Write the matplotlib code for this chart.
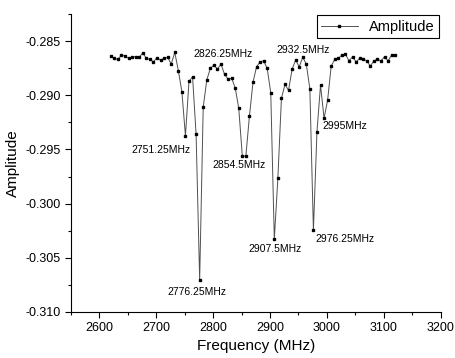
import numpy as np
import matplotlib.pyplot as plt
from matplotlib.ticker import MultipleLocator, FormatStrFormatter

plt.rcParams['font.family'] = ['Liberation Sans', 'DejaVu Sans']
plt.rcParams['axes.unicode_minus'] = False

# %% Data: frequency sweep (MHz) and measured amplitude
freq = np.arange(2620, 3120.01, 6.25)
amp = [-0.28638, -0.28660, -0.28669, -0.28629, -0.28638, -0.28660, -0.28645,
       -0.28645, -0.28650, -0.28608, -0.28660, -0.28669, -0.28691, -0.28654,
       -0.28675, -0.28660, -0.28650, -0.28712, -0.28604, -0.28772, -0.28968,
       -0.29374, -0.28872, -0.28829, -0.29361, -0.30705, -0.29110, -0.28860,
       -0.28752, -0.28721, -0.28758, -0.28712, -0.28807, -0.28851, -0.28844,
       -0.28931, -0.29121, -0.29561, -0.29561, -0.29192, -0.28881, -0.28737,
       -0.28691, -0.28682, -0.28752, -0.28977, -0.30329, -0.29767, -0.29029,
       -0.28900, -0.28955, -0.28760, -0.28675, -0.28737, -0.28650, -0.28712,
       -0.28940, -0.30244, -0.29337, -0.28906, -0.29213, -0.29044, -0.28731,
       -0.28669, -0.28660, -0.28629, -0.28620, -0.28682, -0.28645, -0.28691,
       -0.28660, -0.28669, -0.28682, -0.28731, -0.28682, -0.28669, -0.28682,
       -0.28645, -0.28682, -0.28629, -0.28629]

# %% Peak labels and where they sit
peak_text = ['2751.25MHz', '2776.25MHz', '2826.25MHz', '2854.5MHz',
             '2907.5MHz', '2932.5MHz', '2976.25MHz', '2995MHz']
peak_x = [2708.7, 2771.7, 2817.8, 2845.7, 2909.7, 2957.5, 3031.0, 3032.0]
peak_y = [-0.29506, -0.30813, -0.28623, -0.29644, -0.30419, -0.28583,
          -0.30329, -0.29284]

# %% Plot
fig = plt.figure(figsize=(4.55, 3.58), dpi=100)
ax = fig.add_axes([0.156, 0.1285, 0.8125, 0.8324])
ax.plot(freq, amp, '-', color='#505050', lw=0.7, marker='s', ms=1.5,
        mfc='black', mec='black', label='Amplitude')

for t, x, y in zip(peak_text, peak_x, peak_y):
    ax.text(x, y, t, ha='center', va='center', fontsize=7.5)

ax.set_xlim(2550, 3200)
ax.set_ylim(-0.310, -0.2825)
ax.xaxis.set_major_locator(MultipleLocator(100))
ax.xaxis.set_minor_locator(MultipleLocator(50))
ax.yaxis.set_major_locator(MultipleLocator(0.005))
ax.yaxis.set_minor_locator(MultipleLocator(0.0025))
ax.yaxis.set_major_formatter(FormatStrFormatter('%.3f'))
ax.tick_params(which='major', direction='out', length=4, width=0.8, labelsize=9)
ax.tick_params(which='minor', direction='out', length=2, width=0.8)
ax.spines['top'].set_visible(False)
ax.spines['right'].set_visible(False)

ax.set_xlabel('Frequency (MHz)', fontsize=11, labelpad=3)
ax.set_ylabel('Amplitude', fontsize=11, labelpad=4)

leg = ax.legend(loc='upper right', bbox_to_anchor=(1.0, 1.0), fontsize=10.5,
                fancybox=False, edgecolor='black', framealpha=1,
                handlelength=2.5, borderpad=0.3, borderaxespad=0.1)
leg.get_frame().set_linewidth(0.8)

fig.savefig('out.png', dpi=100)
